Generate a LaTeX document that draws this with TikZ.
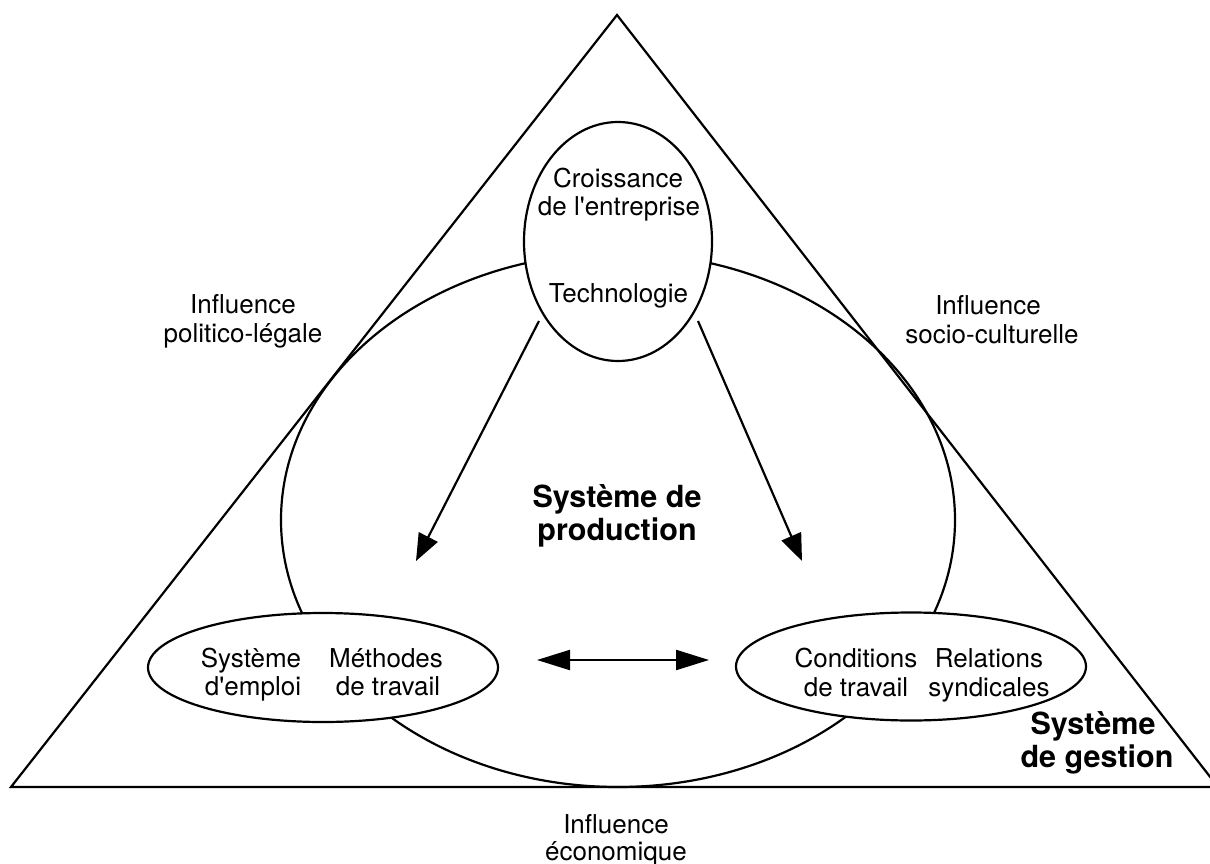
\documentclass[tikz,border=0pt]{standalone}
\usepackage{fontspec}
\setmainfont{TeX Gyre Heros}
\newfontfamily\qfont{TeX Gyre Heros}
\usetikzlibrary{arrows.meta,shapes.geometric}
\newcommand{\apos}{{\qfont\symbol{39}}}
\begin{document}
\begin{tikzpicture}[x=1pt,y=-1pt,
  line/.style={line width=2.2pt},
  oval/.style={ellipse, draw, line width=2.2pt, inner sep=0pt, outer sep=0pt},
  lbl/.style={font=\fontsize{26}{29}\selectfont, anchor=base, inner sep=0pt},
  blbl/.style={font=\fontsize{30.5}{34}\selectfont\bfseries, anchor=base, inner sep=0pt},
  diagarrow/.style={line, -{Triangle[length=27pt,width=21pt]}},
  twoarrow/.style={line, {Triangle[length=33pt,width=20pt]}-{Triangle[length=33pt,width=20pt]}}]
\useasboundingbox (0,0) rectangle (1210,864);
\clip (0,0) rectangle (1210,864);
\fill[white] (0,0) rectangle (1210,864);
% triangle
\coordinate (apex) at (617,15);
\coordinate (bl) at (11,787);
\coordinate (br) at (1218,787);
\draw[line, line join=miter] (bl) -- (apex) -- (br) -- cycle;
% ellipses
\node[oval, minimum width=674pt, minimum height=534pt] (prod) at (618,520) {};
\node[oval, fill=white, minimum width=188pt, minimum height=239pt] (tech) at (618,241.5) {};
\node[oval, fill=white, minimum width=350pt, minimum height=109pt] (emploi) at (323,667.5) {};
\node[oval, fill=white, minimum width=350pt, minimum height=108pt] (cond) at (911,666.5) {};
% top ellipse texts
\node[lbl] (t1) at (618,187) {Croissance};
\node[lbl] (t2) at (619,215) {de l\apos entreprise};
\node[lbl] (t3) at (618.5,302) {Technologie};
% influences
\node[lbl] (p1) at (243,313) {Influence};
\node[lbl] (p2) at (243,342) {politico-légale};
\node[lbl] (s1) at (988,314) {Influence};
\node[lbl] (s2) at (992,343) {socio-culturelle};
\node[lbl] (e1) at (616,833) {Influence};
\node[lbl] (e2) at (616,860) {économique};
% bold titles
\node[blbl] (b1) at (617,507) {Système de};
\node[blbl] (b2) at (617,540) {production};
\node[blbl] (g1) at (1093,734) {Système};
\node[blbl] (g2) at (1097,767) {de gestion};
% left ellipse texts
\node[lbl] (l1) at (251,667) {Système};
\node[lbl] (l2) at (253,695) {d\apos emploi};
\node[lbl] (l3) at (386,667) {Méthodes};
\node[lbl] (l4) at (388,695) {de travail};
% right ellipse texts
\node[lbl] (r1) at (856,667) {Conditions};
\node[lbl] (r2) at (856,696) {de travail};
\node[lbl] (r3) at (989,667) {Relations};
\node[lbl] (r4) at (989,696) {syndicales};
% arrows
\coordinate (a1s) at (539,321);
\coordinate (a1e) at (416,561);
\coordinate (a2s) at (698,321);
\coordinate (a2e) at (802,561);
\coordinate (hl) at (537,660);
\coordinate (hr) at (709,660);
\draw[diagarrow] (a1s) -- (a1e);
\draw[diagarrow] (a2s) -- (a2e);
\draw[twoarrow] (hl) -- (hr);
\end{tikzpicture}
\end{document}
